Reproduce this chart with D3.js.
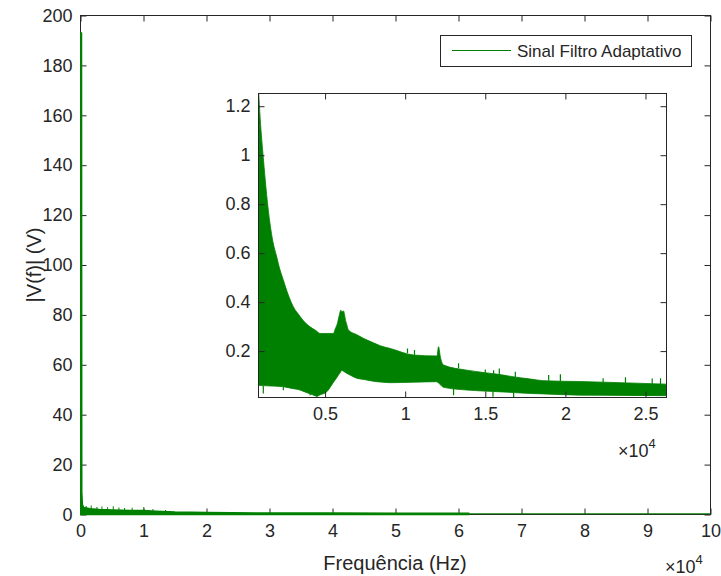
<html>
<head>
<meta charset="utf-8">
<script src="https://cdn.jsdelivr.net/npm/d3@7"></script>
<style>
  body { margin: 0; background: #fff; }
  text { font-family: "Liberation Sans", Arial, Helvetica, sans-serif; fill: #262626; }
  .axis text { font-size: 18px; }
  .axis line { stroke: #262626; stroke-width: 1px; }
  .axis path { display: none; }
  .frame { fill: none; stroke: #262626; stroke-width: 1px; }
</style>
</head>
<body>
<script>
// main spectrum: |V(f)| envelope, Hz -> V
var mainFreq  = [0, 160, 200, 300, 500, 1500, 3000, 5000, 8000, 10000, 12000, 15000, 20000, 30000, 40000, 50000, 61600];
var mainUpper = [193, 193, 9, 4, 2.8, 2.3, 2.0, 1.8, 1.6, 1.6, 1.3, 1.0, 0.8, 0.6, 0.6, 0.5, 0.5];
var mainSpikeFreq = [900, 1700, 2600, 3400, 4300, 5200, 6100, 7000, 8200, 10050, 11500, 13500];
var mainSpikeVal  = [3.4, 3.6, 3.0, 3.2, 2.9, 3.3, 2.8, 2.6, 2.7, 3.0, 2.2, 1.8];
var tailFreq = [61600, 100000];
var tailVal  = [0.3, 0.3];

// inset (zoomed) spectrum, upper and lower envelopes
var insetUpFreq = [844, 950, 1144, 1250, 1350, 1563, 1750, 1981, 2150, 2394, 2700, 3019, 3500, 4063, 4400, 4688, 5519, 5769, 5900, 5980, 6050, 6144, 6300, 6456, 7394, 8438, 9063, 10519, 11981, 12081, 12200, 12394, 13856, 15719, 17188, 17813, 18644, 21356, 23438, 26312];
var insetUpVal  = [1.27, 1.15, 0.99, 0.91, 0.84, 0.72, 0.645, 0.585, 0.54, 0.49, 0.43, 0.381, 0.336, 0.299, 0.285, 0.272, 0.272, 0.313, 0.35, 0.367, 0.36, 0.364, 0.32, 0.286, 0.252, 0.222, 0.211, 0.184, 0.18, 0.218, 0.175, 0.143, 0.122, 0.106, 0.091, 0.086, 0.079, 0.075, 0.071, 0.065];
var insetLoFreq = [844, 2375, 3438, 4481, 5106, 5625, 6044, 6356, 6981, 8231, 9063, 11981, 12394, 13856, 17813, 20938, 26312];
var insetLoVal  = [0.06, 0.055, 0.041, 0.015, 0.034, 0.082, 0.122, 0.109, 0.089, 0.075, 0.071, 0.075, 0.052, 0.041, 0.027, 0.02, 0.018];
var upSpikeFreq = [10144, 10581, 13331, 15000, 15519, 15875, 16875, 18956, 19688, 22356, 23750, 25419, 25938];
var upSpikeVal  = [0.211, 0.204, 0.150, 0.125, 0.122, 0.129, 0.116, 0.102, 0.105, 0.089, 0.093, 0.088, 0.089];
var loSpikeFreq = [1144, 2394, 4063, 4481, 13019, 15481, 16769];
var loSpikeVal  = [0.027, 0.04, 0.02, 0.013, 0.02, 0.014, 0.008];

var mainXTicks = d3.range(0, 100001, 10000);
var mainYTicks = d3.range(0, 201, 20);
var insetXTicks = [5000, 10000, 15000, 20000, 25000];
var insetYTicks = [0.2, 0.4, 0.6, 0.8, 1, 1.2];

var green = "#008000";
var width = 721, height = 576;

var svg = d3.select("body").append("svg")
    .attr("width", width)
    .attr("height", height);

var defs = svg.append("defs");

function frame(g, x, y, tick) {
    var r = x.range(), t = y.range();
    g.append("g").attr("class", "axis")
        .attr("transform", "translate(0," + t[0] + ")")
        .call(d3.axisBottom(x).tickValues(tick.x).tickSize(-6).tickPadding(10).tickFormat(tick.xf));
    g.append("g").attr("class", "axis")
        .attr("transform", "translate(0," + t[1] + ")")
        .call(d3.axisTop(x).tickValues(tick.x).tickSize(-6).tickFormat(""));
    g.append("g").attr("class", "axis")
        .attr("transform", "translate(" + r[0] + ",0)")
        .call(d3.axisLeft(y).tickValues(tick.y).tickSize(-6).tickPadding(8).tickFormat(tick.yf));
    g.append("g").attr("class", "axis")
        .attr("transform", "translate(" + r[1] + ",0)")
        .call(d3.axisRight(y).tickValues(tick.y).tickSize(-6).tickFormat(""));
    g.append("rect").attr("class", "frame")
        .attr("x", r[0]).attr("y", t[1])
        .attr("width", r[1] - r[0]).attr("height", t[0] - t[1]);
}

// ---- main axes ----
var x = d3.scaleLinear().domain([0, 100000]).range([80.5, 710.5]);
var y = d3.scaleLinear().domain([0, 200]).range([514.5, 15.5]);

defs.append("clipPath").attr("id", "clipMain").append("rect")
    .attr("x", 80).attr("y", 15).attr("width", 631).attr("height", 502);

var main = svg.append("g");

frame(main, x, y, {
    x: mainXTicks, y: mainYTicks,
    xf: function (d) { return d / 1e4; },
    yf: function (d) { return d; }
});

var mainPlot = main.append("g").attr("clip-path", "url(#clipMain)");

var mainPts = mainFreq.map(function (f, i) { return [f, mainUpper[i]]; });
var line = d3.line().x(function (d) { return x(d[0]); }).y(function (d) { return y(d[1]); });

mainPlot.append("path")
    .attr("d", line(mainPts.concat([[mainFreq[mainFreq.length - 1], 0], [0, 0]])) + "Z")
    .attr("fill", green).attr("stroke", green).attr("stroke-width", 1.5);

mainPlot.append("path")
    .attr("d", line(tailFreq.map(function (f, i) { return [f, tailVal[i]]; })))
    .attr("fill", "none").attr("stroke", green).attr("stroke-width", 1.2);

mainPlot.selectAll(".ms").data(mainSpikeFreq).enter().append("line")
    .attr("x1", function (d) { return x(d); }).attr("x2", function (d) { return x(d); })
    .attr("y1", y(0)).attr("y2", function (d, i) { return y(mainSpikeVal[i]); })
    .attr("stroke", green).attr("stroke-width", 1);

main.append("text")
    .attr("x", 395).attr("y", 570)
    .attr("text-anchor", "middle").style("font-size", "20px")
    .text("Frequência (Hz)");

main.append("text")
    .attr("transform", "translate(41,265) rotate(-90)")
    .attr("text-anchor", "middle").style("font-size", "20px")
    .text("|V(f)| (V)");

var ex = main.append("text").attr("x", 665).attr("y", 573).style("font-size", "18px");
ex.append("tspan").text("×10");
ex.append("tspan").attr("dy", -9).style("font-size", "13px").text("4");

// ---- legend ----
var leg = svg.append("g");
leg.append("rect").attr("x", 440.5).attr("y", 35.5).attr("width", 251).attr("height", 31)
    .attr("fill", "#fff").attr("stroke", "#262626").attr("stroke-width", 1);
leg.append("line").attr("x1", 452).attr("x2", 511).attr("y1", 50.5).attr("y2", 50.5)
    .attr("stroke", green).attr("stroke-width", 1.2);
leg.append("text").attr("x", 517).attr("y", 57).style("font-size", "17px")
    .text("Sinal Filtro Adaptativo");

// ---- inset axes ----
var xi = d3.scaleLinear().domain([844, 26312]).range([258.5, 666.5]);
var yi = d3.scaleLinear().domain([0.0105, 1.252]).range([397.5, 93.5]);

var inset = svg.append("g");
inset.append("rect").attr("x", 258.5).attr("y", 93.5).attr("width", 408).attr("height", 304).attr("fill", "#fff");

defs.append("clipPath").attr("id", "clipInset").append("rect")
    .attr("x", 258.5).attr("y", 93.5).attr("width", 408).attr("height", 304);

var insetPlot = inset.append("g").attr("clip-path", "url(#clipInset)");

var upInterp = d3.scaleLinear().domain(insetUpFreq).range(insetUpVal);
var loInterp = d3.scaleLinear().domain(insetLoFreq).range(insetLoVal);
var grid = Array.from(new Set(insetUpFreq.concat(insetLoFreq))).sort(d3.ascending);

var area = d3.area()
    .curve(d3.curveMonotoneX)
    .x(function (d) { return xi(d); })
    .y0(function (d) { return yi(loInterp(d)); })
    .y1(function (d) { return yi(upInterp(d)); });

insetPlot.append("path")
    .attr("d", area(grid))
    .attr("fill", green).attr("stroke", green).attr("stroke-width", 0.8);

insetPlot.selectAll(".us").data(upSpikeFreq).enter().append("line")
    .attr("x1", function (d) { return xi(d); }).attr("x2", function (d) { return xi(d); })
    .attr("y1", function (d) { return yi(upInterp(d)); })
    .attr("y2", function (d, i) { return yi(upSpikeVal[i]); })
    .attr("stroke", green).attr("stroke-width", 1.2);

insetPlot.selectAll(".ls").data(loSpikeFreq).enter().append("line")
    .attr("x1", function (d) { return xi(d); }).attr("x2", function (d) { return xi(d); })
    .attr("y1", function (d) { return yi(loInterp(d)); })
    .attr("y2", function (d, i) { return yi(loSpikeVal[i]); })
    .attr("stroke", green).attr("stroke-width", 1.2);

frame(inset, xi, yi, {
    x: insetXTicks, y: insetYTicks,
    xf: function (d) { return d / 1e4; },
    yf: function (d) { return d; }
});

var exi = inset.append("text").attr("x", 618).attr("y", 457).style("font-size", "18px");
exi.append("tspan").text("×10");
exi.append("tspan").attr("dy", -9).style("font-size", "13px").text("4");
</script>
</body>
</html>
